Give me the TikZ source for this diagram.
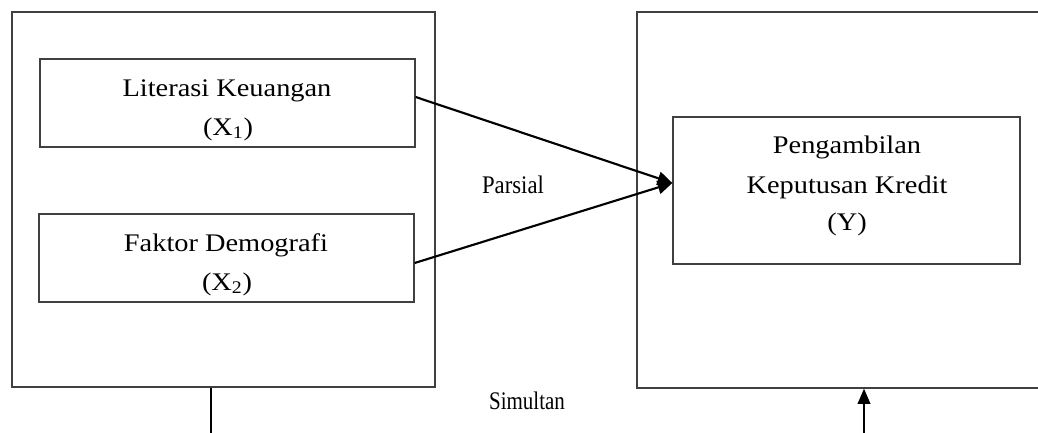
\documentclass[tikz,border=0pt]{standalone}
\usepackage{fontspec}
\setmainfont{Liberation Serif}[FakeStretch=1.12]
\usetikzlibrary{arrows.meta}
\definecolor{boxline}{HTML}{404040}
\tikzset{
  frame/.style={draw=boxline, line width=1.3pt*0.75, inner sep=0pt},
  txt/.style={anchor=base, inner sep=0pt, font=\fontsize{19pt}{23pt}\selectfont},
  lbl/.style={anchor=base, inner sep=0pt, font=\fontsize{19pt}{23pt}\selectfont},
  link/.style={draw=black, line width=1.6pt, -{Triangle[length=11pt,width=10pt]}},
  simline/.style={draw=black, line width=1.4pt}
}
\begin{document}
\begin{tikzpicture}[x=0.75pt,y=-0.75pt]
\useasboundingbox (0,0) rectangle (1038,432);
\clip (0,0) rectangle (1038,432);
\fill[white] (0,0) rectangle (1038,432);
% outer boxes
\node[frame, minimum width=423*0.75pt, minimum height=375*0.75pt] (L) at (223.5,199.5) {};
\node[frame, minimum width=413*0.75pt, minimum height=376*0.75pt] (R) at (843.5,200) {};
% inner boxes
\node[frame, minimum width=375*0.75pt, minimum height=88*0.75pt] (x1) at (227.5,103) {};
\node[frame, minimum width=375*0.75pt, minimum height=88*0.75pt] (x2) at (226.5,258) {};
\node[frame, minimum width=347*0.75pt, minimum height=147*0.75pt] (y) at (846.5,190.5) {};
% texts
\node[txt] (t1a) at (227,96) {Literasi Keuangan};
\node[txt] (t1b) at (228,135) {(X\textsubscript{1})};
\node[txt] (t2a) at (226,251) {Faktor Demografi};
\node[txt] (t2b) at (227,290) {(X\textsubscript{2})};
\node[txt] (tya) at (847,153) {Pengambilan};
\node[txt] (tyb) at (847,193) {Keputusan Kredit};
\node[txt] (tyc) at (847,230) {(Y)};
\node[lbl] (par) at (513,193) {\scalebox{0.8}[1]{Parsial}};
\node[lbl] (sim) at (527,409) {\scalebox{0.74}[1]{Simultan}};
% arrows
\coordinate (tip) at ([yshift=7.5*0.75pt]y.west);
\draw[link] ([yshift=6*0.75pt]x1.east) -- (tip);
\draw[link] ([yshift=-5*0.75pt]x2.east) -- (tip);
% simultaneous path
\coordinate (sl) at (211,445);
\coordinate (sr) at (864,445);
\draw[simline] (L.south -| sl) -- (sl) -- (sr);
\draw[simline, -{Triangle[length=11.5pt,width=9.5pt]}] (sr) -- (R.south -| sr);
\end{tikzpicture}
\end{document}
